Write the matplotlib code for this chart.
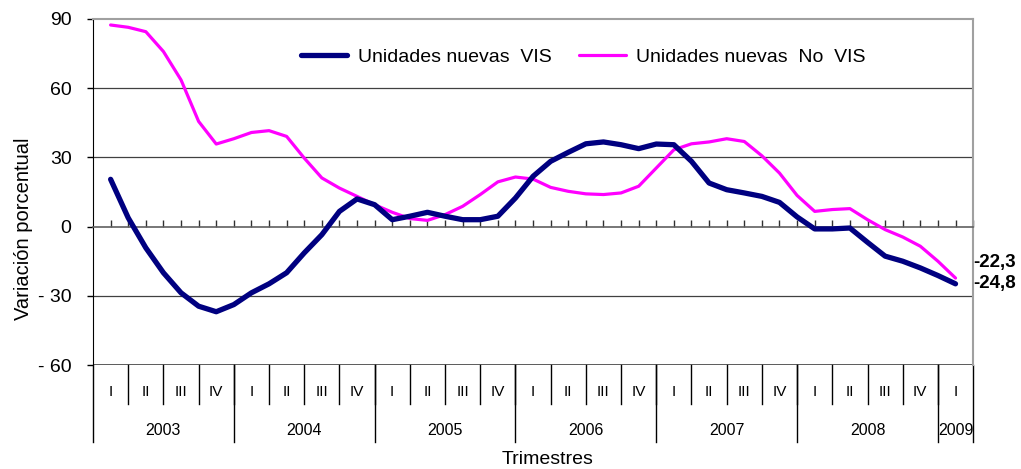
import numpy as np
import matplotlib
matplotlib.use('Agg')
import matplotlib.pyplot as plt
from matplotlib.transforms import blended_transform_factory

plt.rcParams['font.family'] = ['Liberation Sans', 'DejaVu Sans']

# Variacion porcentual anual, lecturas cada medio trimestre (2003 I ... 2009 I)
vis = [20.5, 3.8, -9.2, -20.0, -28.7, -34.5, -36.9, -33.8, -28.7, -24.8, -20.0, -11.4, -3.5,
       6.6, 12.0, 9.5, 3.0, 4.5, 6.2, 4.5, 3.0, 3.0, 4.5, 12.4, 21.8, 28.3,
       32.2, 35.9, 36.7, 35.5, 33.8, 35.8, 35.5, 28.3, 18.9, 16.0, 14.6, 13.1, 10.5,
       4.2, -1.0, -1.0, -0.6, -6.8, -12.8, -15.0, -17.9, -21.2, -24.8]
no_vis = [87.4, 86.4, 84.5, 75.9, 63.6, 45.6, 35.8, 38.1, 40.8, 41.6, 39.1, 29.7, 21.1,
          16.7, 13.1, 9.5, 6.2, 3.5, 2.7, 5.2, 8.8, 13.9, 19.4, 21.5, 20.6, 17.0,
          15.3, 14.2, 13.9, 14.6, 17.5, 25.4, 33.3, 35.9, 36.7, 38.1, 36.9, 30.7, 23.2,
          13.5, 6.6, 7.4, 7.8, 3.0, -1.3, -4.5, -8.5, -15.0, -22.3]

quarters = ['I', 'II', 'III', 'IV'] * 6 + ['I']
years = ['2003', '2004', '2005', '2006', '2007', '2008', '2009']
year_quarters = [4, 4, 4, 4, 4, 4, 1]
yticks = [90, 60, 30, 0, -30, -60]
ytick_labels = ['90', '60', '30', '0', '- 30', '- 60']
last_labels = ['-22,3', '-24,8']

n_q = len(quarters)
x = np.arange(len(vis)) / 2.0  # posicion en trimestres

fig = plt.figure(figsize=(10.21, 4.69), dpi=100)
ax = fig.add_axes([0.0911, 0.2217, 0.862, 0.7378])

ax.plot(x, vis, color='#000080', lw=3.8, solid_capstyle='round', label='Unidades nuevas  VIS', zorder=4)
ax.plot(x, no_vis, color='#FF00FF', lw=2.3, solid_capstyle='round', label='Unidades nuevas  No  VIS', zorder=3)

ax.set_xlim(-0.5, n_q - 0.5)
ax.set_ylim(-60, 90)
ax.set_yticks(yticks)
ax.set_yticklabels(ytick_labels, fontsize=14)
ax.tick_params(axis='y', direction='out', length=4.5, width=1, color='black', pad=11)

# rejilla horizontal
for v in [60, 30, -30]:
    ax.axhline(v, color='#404040', lw=0.9, zorder=1)
ax.axhline(-60, color='#404040', lw=1.2, zorder=1)

# eje de categorias cruza en cero, marcas hacia arriba
ax.spines['bottom'].set_position(('data', 0))
ax.spines['bottom'].set_color('#606060')
ax.spines['bottom'].set_linewidth(1.2)
ax.set_xticks(np.arange(0, n_q, 0.5))
ax.set_xticklabels([])
ax.tick_params(axis='x', direction='in', length=5, width=1, color='#303030')
ax.spines['left'].set_color('black')
ax.spines['top'].set_color('#a0a0a0')
ax.spines['right'].set_color('#a0a0a0')
ax.spines['top'].set_linewidth(1.5)
ax.spines['right'].set_linewidth(1.5)

# tabla de categorias bajo el grafico
tr = blended_transform_factory(ax.transData, ax.transAxes)
for i in range(1, n_q):
    ax.plot([i - 0.5, i - 0.5], [0, -0.113], color='black', lw=1, transform=tr, clip_on=False)
for i, q in enumerate(quarters):
    ax.text(i, -0.078, q, transform=tr, ha='center', va='center', fontsize=11)
start = -0.5
for yr, nq in zip(years, year_quarters):
    ax.plot([start, start], [0, -0.2225], color='black', lw=1, transform=tr, clip_on=False)
    ax.text(start + nq / 2, -0.188, yr, transform=tr, ha='center', va='center', fontsize=11.5)
    start += nq
ax.plot([start, start], [0, -0.2225], color='black', lw=1, transform=tr, clip_on=False)

ax.text(0.516, -0.272, 'Trimestres', transform=ax.transAxes, ha='center', va='center', fontsize=14)
fig.text(0.023, 0.512, 'Variación porcentual', rotation=90, ha='center', va='center', fontsize=14.5)

# etiquetas del ultimo dato
ax.annotate(last_labels[0], xy=(1.0, no_vis[-1]), xycoords=('axes fraction', 'data'),
            xytext=(0, 11), textcoords='offset points', ha='left', va='center',
            fontsize=13.5, fontweight='bold', annotation_clip=False)
ax.annotate(last_labels[1], xy=(1.0, vis[-1]), xycoords=('axes fraction', 'data'),
            xytext=(0, 0.5), textcoords='offset points', ha='left', va='center',
            fontsize=13.5, fontweight='bold', annotation_clip=False)

ax.legend(loc='center', bbox_to_anchor=(0.557, 0.89), ncol=2, frameon=False, fontsize=14,
          handlelength=2.4, handletextpad=0.55, columnspacing=1.4)

fig.savefig('out.png', dpi=100)
